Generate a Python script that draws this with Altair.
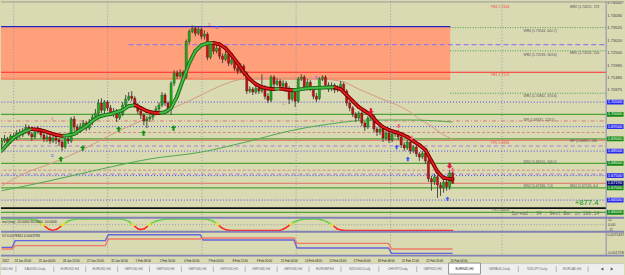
import altair as alt
import pandas as pd

BG = "#d9d9b2"
FONT = "Liberation Sans"

# ---------------- price bars (EURNZD H4, index 0 = first visible bar) ----------------
bar_open = [1.6875,1.6891,1.6899,1.6887,1.6912,1.6904,1.6924,1.6916,1.6932,1.6948,
            1.6920,1.6908,1.6928,1.6940,1.6916,1.6899,1.6908,1.6891,1.6904,1.6895,
            1.6887,1.6867,1.6899,1.6891,1.6981,1.6948,1.6932,1.6952,1.6965,1.6944,
            1.6969,1.6989,1.7005,1.7046,1.7017,1.7050,1.7026,1.7005,1.7013,1.6985,
            1.7001,1.7038,1.7062,1.7074,1.7066,1.7038,1.7013,1.6997,1.6973,1.6981,
            1.6989,1.7005,1.7022,1.7038,1.7079,1.7046,1.7022,1.7127,1.7168,1.7156,
            1.7172,1.7152,1.7298,1.7339,1.7351,1.7331,1.7347,1.7319,1.7327,1.7233,
            1.7286,1.7258,1.7270,1.7237,1.7225,1.7245,1.7209,1.7221,1.7188,1.7176,
            1.7197,1.7168,1.7095,1.7103,1.7091,1.7107,1.7095,1.7111,1.7074,1.7058,
            1.7152,1.7123,1.7136,1.7115,1.7127,1.7107,1.7062,1.7091,1.7054,1.7144,
            1.7152,1.7111,1.7131,1.7107,1.7074,1.7066,1.7144,1.7152,1.7119,1.7103,
            1.7119,1.7099,1.7111,1.7123,1.7095,1.7046,1.7026,1.7001,1.6985,1.7005,
            1.6965,1.6948,1.6985,1.6993,1.6940,1.6928,1.6940,1.6904,1.6924,1.6895,
            1.6920,1.6924,1.6908,1.6875,1.6863,1.6887,1.6851,1.6867,1.6838,1.6826,
            1.6842,1.6810,1.6737,1.6724,1.6745,1.6712,1.6700,1.6724,1.6704,1.6761]
bar_close = [1.6891,1.6899,1.6887,1.6912,1.6904,1.6924,1.6916,1.6932,1.6948,1.6920,
             1.6908,1.6928,1.6940,1.6916,1.6899,1.6908,1.6891,1.6904,1.6895,1.6887,
             1.6867,1.6899,1.6891,1.6981,1.6948,1.6932,1.6952,1.6965,1.6944,1.6969,
             1.6989,1.7005,1.7046,1.7017,1.7050,1.7026,1.7005,1.7013,1.6985,1.7001,
             1.7038,1.7062,1.7074,1.7066,1.7038,1.7013,1.6997,1.6973,1.6981,1.6989,
             1.7005,1.7022,1.7038,1.7079,1.7046,1.7022,1.7127,1.7168,1.7156,1.7172,
             1.7152,1.7298,1.7339,1.7351,1.7331,1.7347,1.7319,1.7327,1.7233,1.7286,
             1.7258,1.7270,1.7237,1.7225,1.7245,1.7209,1.7221,1.7188,1.7176,1.7197,
             1.7168,1.7095,1.7103,1.7091,1.7107,1.7095,1.7111,1.7074,1.7058,1.7152,
             1.7123,1.7136,1.7115,1.7127,1.7107,1.7062,1.7091,1.7054,1.7144,1.7152,
             1.7111,1.7131,1.7107,1.7074,1.7062,1.7144,1.7152,1.7119,1.7103,1.7119,
             1.7099,1.7111,1.7123,1.7095,1.7046,1.7026,1.7001,1.6985,1.7005,1.6965,
             1.6948,1.6985,1.6993,1.6940,1.6928,1.6940,1.6904,1.6924,1.6895,1.6920,
             1.6924,1.6908,1.6875,1.6863,1.6887,1.6851,1.6867,1.6838,1.6826,1.6842,
             1.6810,1.6737,1.6724,1.6745,1.6712,1.6700,1.6724,1.6704,1.6761,1.6719]
bar_high = [1.6904,1.6916,1.6908,1.6920,1.6924,1.6936,1.6940,1.6944,1.6960,1.6956,
            1.6928,1.6936,1.6952,1.6944,1.6924,1.6920,1.6916,1.6912,1.6916,1.6904,
            1.6895,1.6908,1.6912,1.6989,1.6993,1.6960,1.6965,1.6977,1.6973,1.6981,
            1.7001,1.7022,1.7062,1.7066,1.7058,1.7058,1.7038,1.7026,1.7022,1.7013,
            1.7050,1.7079,1.7091,1.7095,1.7074,1.7046,1.7022,1.7005,1.6993,1.7001,
            1.7013,1.7034,1.7050,1.7091,1.7087,1.7054,1.7136,1.7180,1.7180,1.7184,
            1.7180,1.7306,1.7347,1.7363,1.7359,1.7359,1.7355,1.7343,1.7335,1.7298,
            1.7294,1.7282,1.7278,1.7249,1.7258,1.7254,1.7233,1.7229,1.7201,1.7209,
            1.7205,1.7176,1.7115,1.7111,1.7119,1.7115,1.7164,1.7119,1.7087,1.7160,
            1.7160,1.7148,1.7144,1.7140,1.7136,1.7115,1.7103,1.7099,1.7152,1.7164,
            1.7160,1.7144,1.7140,1.7115,1.7087,1.7152,1.7160,1.7160,1.7131,1.7131,
            1.7127,1.7119,1.7136,1.7131,1.7103,1.7054,1.7034,1.7009,1.7013,1.7013,
            1.6973,1.6993,1.7001,1.7001,1.6948,1.6952,1.6948,1.6932,1.6932,1.6928,
            1.6936,1.6936,1.6916,1.6887,1.6895,1.6895,1.6875,1.6875,1.6846,1.6851,
            1.6851,1.6818,1.6749,1.6757,1.6753,1.6724,1.6733,1.6733,1.6773,1.6769]
bar_low = [1.6863,1.6883,1.6875,1.6879,1.6891,1.6895,1.6904,1.6908,1.6920,1.6912,
           1.6891,1.6899,1.6920,1.6904,1.6887,1.6887,1.6879,1.6883,1.6879,1.6871,
           1.6851,1.6859,1.6879,1.6883,1.6932,1.6916,1.6924,1.6940,1.6932,1.6936,
           1.6956,1.6981,1.6997,1.7005,1.7001,1.7013,1.6993,1.6989,1.6969,1.6977,
           1.6993,1.7030,1.7054,1.7054,1.7026,1.7001,1.6981,1.6956,1.6944,1.6969,
           1.6977,1.6997,1.7009,1.7030,1.7034,1.7005,1.6997,1.7115,1.7144,1.7148,
           1.7140,1.7144,1.7286,1.7331,1.7319,1.7323,1.7306,1.7306,1.7221,1.7225,
           1.7245,1.7249,1.7225,1.7209,1.7217,1.7197,1.7201,1.7176,1.7164,1.7168,
           1.7156,1.7083,1.7087,1.7079,1.7083,1.7083,1.7087,1.7062,1.7046,1.7050,
           1.7111,1.7115,1.7103,1.7107,1.7095,1.7042,1.7054,1.7030,1.7046,1.7136,
           1.7099,1.7103,1.7095,1.7062,1.7050,1.7058,1.7136,1.7107,1.7091,1.7095,
           1.7087,1.7091,1.7103,1.7083,1.7034,1.7013,1.6989,1.6969,1.6977,1.6952,
           1.6932,1.6940,1.6973,1.6928,1.6912,1.6916,1.6887,1.6895,1.6883,1.6887,
           1.6908,1.6895,1.6863,1.6851,1.6855,1.6838,1.6842,1.6826,1.6810,1.6818,
           1.6798,1.6724,1.6688,1.6712,1.6659,1.6667,1.6680,1.6688,1.6692,1.6716]
bar_k = list(range(len(bar_close)))

# fast smoothed MA (thick, colour by direction)
ma_k = list(range(0, 150, 2)) + [149]
ma_val = [1.6851,1.6879,1.6904,1.6920,1.6932,1.6940,1.6938,1.6932,1.6924,1.6916,
          1.6912,1.6914,1.6920,1.6936,1.6952,1.6973,1.6989,1.6997,1.7001,1.7009,
          1.7017,1.7034,1.7038,1.7026,1.7013,1.7007,1.7005,1.7009,1.7026,1.7074,
          1.7144,1.7209,1.7258,1.7282,1.7290,1.7292,1.7286,1.7270,1.7241,1.7209,
          1.7172,1.7144,1.7123,1.7111,1.7105,1.7103,1.7105,1.7101,1.7099,1.7101,
          1.7105,1.7107,1.7108,1.7109,1.7110,1.7111,1.7103,1.7079,1.7054,1.7030,
          1.7013,1.6997,1.6969,1.6948,1.6936,1.6928,1.6920,1.6908,1.6891,1.6875,
          1.6855,1.6810,1.6765,1.6741,1.6737,1.6736]
# slow MAs (thin)
ma50_k = [0, 8, 16, 26, 36, 46, 56, 66, 72, 80, 89, 99, 112, 118, 125, 132, 135, 138, 142, 145, 149]
ma50_val = [1.6708,1.6761,1.6798,1.6851,1.6916,1.6973,1.7022,1.7079,1.7115,1.7144,
            1.7148,1.7148,1.7136,1.7103,1.7066,1.7030,1.7009,1.6981,1.6952,1.6924,1.6899]
ma200_k = [0, 16, 33, 49, 66, 82, 95, 108, 122, 135, 149]
ma200_val = [1.6688,1.6729,1.6777,1.6818,1.6846,1.6891,1.6932,1.6960,1.6977,1.6977,1.6969]

# supply zone
zone_k = [-5, 148.2]
zone_price = [1.7358, 1.7142]

# horizontal levels
round_half = [1.705, 1.695, 1.685, 1.675, 1.665]
round_full = [1.700, 1.690, 1.680, 1.670, 1.660]
red_bright = [1.7172]
red_pale = [1.6894, 1.67186]
red_dashdot = [1.69731]
pink_dash = [1.6926, 1.6772]
purple_dash = [1.6871, 1.6756]
purple_dash_part = [1.7285]
pivot_dotted = [1.73543, 1.72593, 1.70862]
black_level = [1.6617]

axis_prices = [1.74545, 1.74030, 1.73525, 1.73010, 1.72505, 1.71995, 1.71480, 1.70975]
bid_price = 1.6719

ann_text = ["MR2 (1.74515, 729", "WR3 (1.73543, 642.7)", "MR1 (1.72626, 550", "WR2 (1.72593, 563.6)",
            "WR1 (1.70862, 374.6)", "WP (1.69731, 223.5)", "MP (1.68815, 180", "WS1 (1.68105, 106.5)",
            "WS2 (1.67186, 7.4)", "MS1 (1.67126, 6.4", "YS1 1.6616"]
ann_k = [187.8, 172.4, 187.8, 172.4, 172.4, 172.4, 187.8, 172.4, 172.4, 187.8, 161.8]
ann_p = [1.7440, 1.7342, 1.7251, 1.7244, 1.7074, 1.6977, 1.6891, 1.6807, 1.6708, 1.6708, 1.6609]
yr_text = ["YR4 1.7444", "YR1 1.7172", "YP0 1.6894"]
yr_k = [161.5, 161.5, 161.5]
yr_p = [1.7437, 1.7160, 1.6884]

up_green_k = [19.6, 26.8, 38.7, 46.9, 56.8]
up_green_p = [1.6818, 1.6863, 1.6940, 1.6924, 1.6944]
dn_red_k = [122, 148]
dn_red_p = [1.7013, 1.6790]
dn_pink_k = [131.2, 135.5, 149]
dn_pink_p = [1.6952, 1.6904, 1.6773]
up_blue_k = [130.5, 134.2, 147.3]
up_blue_p = [1.6867, 1.6818, 1.6655]
mark_pink_k = [68.3, 16.3, 92.7]
mark_pink_p = [1.7370, 1.6985, 1.7046]
mark_blue_k = [70.6, 103.5, 16.3]
mark_blue_p = [1.7355, 1.7152, 1.6834]

grid_k = [4.0, 35.05, 66.2, 97.3, 128.5, 165.3]

# indicator 1 (trend oscillator)
ind1_k = [0, 9.7, 11.7, 13, 14.3, 15.6, 16.9, 18.3, 19.6, 20.9, 22.2, 24.2, 26.2, 39.3, 40.6, 42, 43, 44, 45, 45.9,
          47.2, 48.2, 49.2, 50.9, 53.2, 55.1, 67, 68.3, 69.6, 70.9, 71.9, 72.9, 74.2, 75.5, 92, 93, 94, 95, 96, 97.6,
          99.6, 101.9, 104.5, 105.8, 107.5, 108.8, 109.8, 110.8, 112.1, 113.7, 149]
ind1_v = [12.5, 12.5, 10, 3.75, -3.75, -10, -12.5, -10, -3.75, 3.75, 8.75, 11.9, 12.5, 12.5, 11.25, 7.5, 2.5, -3.75, -8.75, -10.6,
          -8.75, -3.75, 2.5, 7.5, 11.25, 12.5, 12.5, 11.25, 8.75, 3.75, -2.5, -7.5, -11.25, -12.5, -12.5, -10, -6.25, -1.25, 3.75, 8.75,
          11.9, 12.5, 12.5, 10.6, 6.25, 1.25, -3.75, -8.75, -11.9, -12.5, -12.5]
ind1_ticks = [11, 0, -11]
ind1_tick_text = ["11", "0.00", "-11"]
ind1_title = "mal (mq) -10.0000 90.0000 -10.0000"

# indicator 2 (step lines)
ind2_k = [0, 3.5, 4.5, 34.3, 35.3, 65.6, 66.6, 96.6, 97.6, 127.8, 128.8, 149]
ind2_blue = [0.00123, 0.00123, 0.00456, 0.00456, 0.00754, 0.00754, 0.00491, 0.00491, 0.00093, 0.00093, -0.00176, -0.00176]
ind2_red = [0.00043, 0.00043, 0.00207, 0.00207, 0.00540, 0.00540, 0.00590, 0.00590, 0.00322, 0.00322, 0.00043, 0.00043]
ind2_ticks = [0.0075437, -0.0017590]
ind2_tick_text = ["0.0075437", "-0.0017590"]
ind2_title = "V2 0.0078841 0.0043783"

# time axis (first label is only partly on screen: its visible tail is kept)
x_labels = ["2022", "23 Jan 20:00", "25 Jan 04:00", "26 Jan 12:00", "27 Jan 20:00", "31 Jan 00:00",
            "1 Feb 08:00", "2 Feb 16:00", "4 Feb 00:00", "7 Feb 04:00", "8 Feb 12:00", "9 Feb 20:00",
            "11 Feb 04:00", "14 Feb 08:00", "15 Feb 16:00", "17 Feb 00:00", "18 Feb 08:00", "21 Feb 12:00",
            "22 Feb 20:00", "24 Feb 04:00"]
x_label_k = [0.0] + [4 + 8 * i for i in range(len(x_labels) - 1)]

tab_names = ["USD,H4", "XAUUSD,Daily", "EURUSD,H4", "EURUSD,H4", "GBPUSD,H4", "GBPUSD,H4", "GBPUSD,H4",
             "GBPUSD,H1", "GBPUSD,H4", "GBPUSD,H4", "EURGBP,H4", "NZDUSD,Daily", "CHFJPY,Daily", "GBPNZD,H4",
             "EURNZD,H4", "GBPAUD,Daily", "NZDJPY,Daily", "EURCAD,H4"]
active_tab = 14

# ---------------- layout ----------------
W = 625
H_MAIN, H_I1, H_I2, H_BOT = 217, 14, 24, 20
AXK, RK = 199.7, 205.6

xsc = alt.Scale(domain=[-0.18, RK], nice=False, zero=False)
ysc_main = alt.Scale(domain=[1.65779, 1.74611], nice=False, zero=False)
ysc_i1 = alt.Scale(domain=[-15.4, 15.4], nice=False, zero=False)
ysc_i2 = alt.Scale(domain=[-0.0029032, 0.0090362], nice=False, zero=False)


def X(f):
    return alt.X(f"{f}:Q", scale=xsc, axis=None)


def Yq(f, sc):
    return alt.Y(f"{f}:Q", scale=sc, axis=None)


def grid_layer():
    return alt.Chart(pd.DataFrame({"k": grid_k})).mark_rule(
        color="#8a8aa8", strokeWidth=0.8, strokeDash=[1, 2]).encode(x=X("k"))


def axis_column(h):
    bg = alt.Chart(pd.DataFrame({"k0": [AXK], "k1": [RK]})).mark_rect(color=BG).encode(
        x=X("k0"), x2="k1", y=alt.value(0), y2=alt.value(h))
    border = alt.Chart(pd.DataFrame({"k": [AXK]})).mark_rule(color="#8c8cb0", strokeWidth=1).encode(x=X("k"))
    return bg + border


def hline(prices, color, width=1.0, dash=None, k0=-1.0, k1=AXK):
    df = pd.DataFrame({"p": prices})
    df["k0"] = k0
    df["k1"] = k1
    props = dict(color=color, strokeWidth=width, clip=True)
    if dash is not None:
        props["strokeDash"] = dash
    return alt.Chart(df).mark_rule(**props).encode(x=X("k0"), x2="k1", y=Yq("p", ysc_main))


UP = "M0,-1L1,0L0.4,0L0.4,1L-0.4,1L-0.4,0L-1,0Z"
DN = "M0,1L1,0L0.4,0L0.4,-1L-0.4,-1L-0.4,0L-1,0Z"


def arrows(ks, ps, shape, color, size):
    return alt.Chart(pd.DataFrame({"k": ks, "p": ps})).mark_point(
        shape=shape, filled=True, color=color, size=size, opacity=1, strokeWidth=0).encode(
        x=X("k"), y=Yq("p", ysc_main))


def texts(ks, ps, labels, color, size, font=FONT, sc=ysc_main):
    return alt.Chart(pd.DataFrame({"k": ks, "p": ps, "t": labels})).mark_text(
        align="left", baseline="middle", color=color, fontSize=size, font=font, clip=True).encode(
        x=X("k"), y=Yq("p", sc), text="t:N")


def seg_rules(df, sc, color, width):
    return alt.Chart(df).mark_rule(color=color, strokeWidth=width, strokeCap="round", clip=True).encode(
        x=X("k"), x2="k2", y=Yq("v", sc), y2="v2")


# ---------------- main panel ----------------
bars = pd.DataFrame({"k": bar_k, "o": bar_open, "h": bar_high, "l": bar_low, "c": bar_close})
bars["top"] = bars[["o", "c"]].max(axis=1)
bars["bot"] = bars[["o", "c"]].min(axis=1)
bars["x0"] = bars["k"] - 0.36
bars["x1"] = bars["k"] + 0.36

zone = alt.Chart(pd.DataFrame({"k0": [zone_k[0]], "k1": [zone_k[1]], "t": [zone_price[0]], "b": [zone_price[1]]})
                 ).mark_rect(color="#ffa07a", clip=True).encode(x=X("k0"), x2="k1", y=Yq("t", ysc_main), y2="b")
zone_edge = hline([zone_price[1] + 0.0003], "#f28d66", 2.0, None, zone_k[0], zone_k[1])
zone_top = hline([zone_price[0]], "#2323c4", 1.2, None, zone_k[0], zone_k[1])

lines = (
    hline(round_half, "#4646f0", 1.0, [1, 2])
    + hline(round_full, "#52a03a", 1.4)
    + hline(red_pale, "#e07060", 1.0)
    + hline(red_dashdot, "#e07a7a", 1.0, [4, 2, 1, 2])
    + hline(pink_dash, "#d48a8a", 1.0, [3, 2])
    + hline(purple_dash, "#b078e0", 1.0, [4, 3])
    + hline(purple_dash_part, "#9c7ce0", 1.2, [5, 3], 42, AXK)
    + hline(pivot_dotted, "#46a046", 1.0, [1, 1.5], zone_k[1], AXK)
    + hline(red_bright, "#ff2a2a", 1.2)
    + hline(black_level, "#101010", 1.6)
)

ma50 = alt.Chart(pd.DataFrame({"k": ma50_k, "v": ma50_val})).mark_line(
    color="#d39a86", strokeWidth=1, interpolate="monotone", clip=True).encode(x=X("k"), y=Yq("v", ysc_main))
ma200 = alt.Chart(pd.DataFrame({"k": ma200_k, "v": ma200_val})).mark_line(
    color="#4caa4c", strokeWidth=1, interpolate="monotone", clip=True).encode(x=X("k"), y=Yq("v", ysc_main))

wick = alt.Chart(bars).mark_rule(color="#3c3c3c", strokeWidth=0.9, clip=True).encode(
    x=X("k"), y=Yq("l", ysc_main), y2="h")
body_up = alt.Chart(bars[bars["c"] >= bars["o"]]).mark_rect(
    color="#14b014", stroke="#1c3a1c", strokeWidth=0.35, clip=True).encode(
    x=X("x0"), x2="x1", y=Yq("bot", ysc_main), y2="top")
body_dn = alt.Chart(bars[bars["c"] < bars["o"]]).mark_rect(
    color="#c41010", stroke="#3a1010", strokeWidth=0.35, clip=True).encode(
    x=X("x0"), x2="x1", y=Yq("bot", ysc_main), y2="top")

seg = pd.DataFrame({"k": ma_k[:-1], "v": ma_val[:-1], "k2": ma_k[1:], "v2": ma_val[1:]})
rising = seg["v2"] >= seg["v"]
ma_lines = (seg_rules(seg[rising], ysc_main, "#1f6f1f", 3.8) + seg_rules(seg[~rising], ysc_main, "#760000", 3.8)
            + seg_rules(seg[rising], ysc_main, "#45c045", 1.7) + seg_rules(seg[~rising], ysc_main, "#e81c1c", 1.7))

arr = (arrows(up_green_k, up_green_p, UP, "#129412", 30)
       + arrows(dn_red_k, dn_red_p, DN, "#e0143c", 36)
       + arrows(dn_pink_k, dn_pink_p, DN, "#f0607a", 20)
       + arrows(up_blue_k, up_blue_p, UP, "#3456ff", 20))

marks = (texts(mark_pink_k, mark_pink_p, ["≡"] * len(mark_pink_k), "#e07aa0", 5)
         + texts(mark_blue_k, mark_blue_p, ["≡"] * len(mark_blue_k), "#5a5aff", 5))

ann = (texts(ann_k, ann_p, ann_text, "#555555", 3.4)
       + texts(yr_k, yr_p, yr_text, "#f04848", 3.6)
       + texts([168.4], [1.6595], ["Spread : 34 . Next Bar in 188:14"], "#6a6a6a", 4.6, "Liberation Mono")
       + texts([189.3], [1.6640], ["+877.4"], "#1a961a", 7.8))

ax_lab = texts([200.1] * len(axis_prices), axis_prices, [f"{p:.5f}" for p in axis_prices], "#404040", 4.1)


def price_boxes(prices, color):
    df = pd.DataFrame({"p": prices})
    df["t"] = df["p"].map(lambda v: f"{v:.5f}")
    df["lo"] = df["p"] - 0.00098
    df["hi"] = df["p"] + 0.00098
    df["k0"] = 199.95
    df["k1"] = 205.45
    df["kt"] = 200.25
    r = alt.Chart(df).mark_rect(color=color).encode(x=X("k0"), x2="k1", y=Yq("lo", ysc_main), y2="hi")
    t = alt.Chart(df).mark_text(align="left", baseline="middle", color="white", fontSize=4, font=FONT).encode(
        x=X("kt"), y=Yq("p", ysc_main), text="t:N")
    return r + t


boxes = price_boxes(round_half, "#2b2bf0") + price_boxes(round_full, "#138a13") + price_boxes([bid_price], "#0a0a80")

top_frame = alt.Chart(pd.DataFrame({"a": [0]})).mark_rule(color="#9a9a9a", strokeWidth=1).encode(
    y=alt.value(0.5))

main = alt.layer(
    zone, zone_edge, grid_layer(), lines, zone_top, ma50, ma200, wick, body_up, body_dn, ma_lines,
    arr, marks, ann, axis_column(H_MAIN), ax_lab, boxes, top_frame
).properties(width=W, height=H_MAIN)

# ---------------- indicator 1 ----------------
s1 = pd.DataFrame({"k": ind1_k[:-1], "v": ind1_v[:-1], "k2": ind1_k[1:], "v2": ind1_v[1:]})
mid = (s1["v"] + s1["v2"]) / 2
curve = (seg_rules(s1[mid > 3], ysc_i1, "#66d04a", 1.5)
         + seg_rules(s1[(mid <= 3) & (mid >= -3)], ysc_i1, "#e8e800", 1.5)
         + seg_rules(s1[mid < -3], ysc_i1, "#ff2626", 1.5))
zero1 = alt.Chart(pd.DataFrame({"v": [0], "k0": [-1], "k1": [AXK]})).mark_rule(
    color="#8a8a9a", strokeWidth=0.8, strokeDash=[1, 2], clip=True).encode(x=X("k0"), x2="k1", y=Yq("v", ysc_i1))
title1 = alt.Chart(pd.DataFrame({"t": [ind1_title]})).mark_text(
    align="left", baseline="middle", fontSize=3.4, font=FONT, color="#303030").encode(
    x=alt.value(1), y=alt.value(4), text="t:N")
lab1 = texts([200.3] * 3, ind1_ticks, ind1_tick_text, "#404040", 3.8, FONT, ysc_i1)
border1 = alt.Chart(pd.DataFrame({"a": [0]})).mark_rule(color="#8282b4", strokeWidth=2).encode(y=alt.value(0))
ind1 = alt.layer(grid_layer(), zero1, curve, title1, axis_column(H_I1), lab1, border1).properties(
    width=W, height=H_I1)

# ---------------- indicator 2 ----------------
i2 = pd.DataFrame({"k": ind2_k, "b": ind2_blue, "r": ind2_red})
blue2 = alt.Chart(i2).mark_line(color="#6464dc", strokeWidth=1.4, clip=True).encode(x=X("k"), y=Yq("b", ysc_i2))
red2 = alt.Chart(i2).mark_line(color="#f07a68", strokeWidth=1.4, clip=True).encode(x=X("k"), y=Yq("r", ysc_i2))
title2 = alt.Chart(pd.DataFrame({"t": [ind2_title]})).mark_text(
    align="left", baseline="middle", fontSize=3.4, font=FONT, color="#303030").encode(
    x=alt.value(1), y=alt.value(4.5), text="t:N")
lab2 = texts([200.1] * 2, ind2_ticks, ind2_tick_text, "#404040", 3.6, FONT, ysc_i2)
border2 = alt.Chart(pd.DataFrame({"a": [0]})).mark_rule(color="#8282b4", strokeWidth=2).encode(y=alt.value(0))
ind2 = alt.layer(grid_layer(), blue2, red2, title2, axis_column(H_I2), lab2, border2).properties(
    width=W, height=H_I2)

# ---------------- time axis + tab bar ----------------
pxsc = alt.Scale(domain=[0, W], nice=False, zero=False)
widths = [2 * len(n) + 14 for n in tab_names]
starts, pos = [], 15 - widths[0]
for w in widths:
    starts.append(pos)
    pos += w
tabs = pd.DataFrame({"name": tab_names, "s": starts, "w": widths})
tabs["e"] = tabs["s"] + tabs["w"]
tabs["c"] = tabs["s"] + tabs["w"] / 2
tabs.loc[0, "c"] = max(tabs.loc[0, "c"], 0.9 * len(tab_names[0]) + 0.5)
tabs["active"] = [i == active_tab for i in range(len(tab_names))]
seps = tabs[[(i not in (active_tab - 1, active_tab)) for i in range(len(tab_names))]]

xl = alt.Chart(pd.DataFrame({"k": x_label_k, "t": x_labels})).mark_text(
    align="left", baseline="middle", fontSize=2.9, font=FONT, color="#202020", dx=0.8).encode(
    x=X("k"), y=alt.value(5), text="t:N")
bar_bg = alt.Chart(pd.DataFrame({"a": [0], "b": [W]})).mark_rect(color="#eeeeee").encode(
    x=alt.X("a:Q", scale=pxsc, axis=None), x2="b", y=alt.value(8), y2=alt.value(20))
bar_line = alt.Chart(pd.DataFrame({"a": [0], "b": [W]})).mark_rule(color="#c4c4c4", strokeWidth=0.8).encode(
    x=alt.X("a:Q", scale=pxsc, axis=None), x2="b", y=alt.value(8))
sep_r = alt.Chart(seps).mark_rule(color="#a8a8a8", strokeWidth=0.8).encode(
    x=alt.X("e:Q", scale=pxsc, axis=None), y=alt.value(10.5), y2=alt.value(16.5))
act = alt.Chart(tabs[tabs["active"]]).mark_rect(color="white", stroke="#7a7a7a", strokeWidth=0.8).encode(
    x=alt.X("s:Q", scale=pxsc, axis=None), x2="e", y=alt.value(7.5), y2=alt.value(18.5))
tab_in = alt.Chart(tabs[~tabs["active"]]).mark_text(
    baseline="middle", fontSize=3.2, font=FONT, color="#6a6a6a").encode(
    x=alt.X("c:Q", scale=pxsc, axis=None), y=alt.value(13), text="name:N")
tab_on = alt.Chart(tabs[tabs["active"]]).mark_text(
    baseline="middle", fontSize=3.2, font=FONT, color="#101010").encode(
    x=alt.X("c:Q", scale=pxsc, axis=None), y=alt.value(13), text="name:N")
scroll_l = alt.Chart(pd.DataFrame({"px": [603]})).mark_point(
    shape="triangle-left", filled=True, size=9, color="#505050", opacity=1).encode(
    x=alt.X("px:Q", scale=pxsc, axis=None), y=alt.value(13.5))
scroll_r = alt.Chart(pd.DataFrame({"px": [613]})).mark_point(
    shape="triangle-right", filled=True, size=9, color="#505050", opacity=1).encode(
    x=alt.X("px:Q", scale=pxsc, axis=None), y=alt.value(13.5))
border3 = alt.Chart(pd.DataFrame({"a": [0]})).mark_rule(color="#8282b4", strokeWidth=2).encode(y=alt.value(0))
bottom = alt.layer(xl, bar_bg, bar_line, sep_r, act, tab_in, tab_on, scroll_l, scroll_r, border3).resolve_scale(
    x="independent").properties(width=W, height=H_BOT)

chart = alt.vconcat(main, ind1, ind2, bottom, spacing=0, bounds="flush").resolve_scale(
    color="independent").properties(background=BG, padding=0).configure_view(stroke=None).configure_concat(spacing=0)

chart.save("out.html", embed_options={"renderer": "svg", "actions": False})
